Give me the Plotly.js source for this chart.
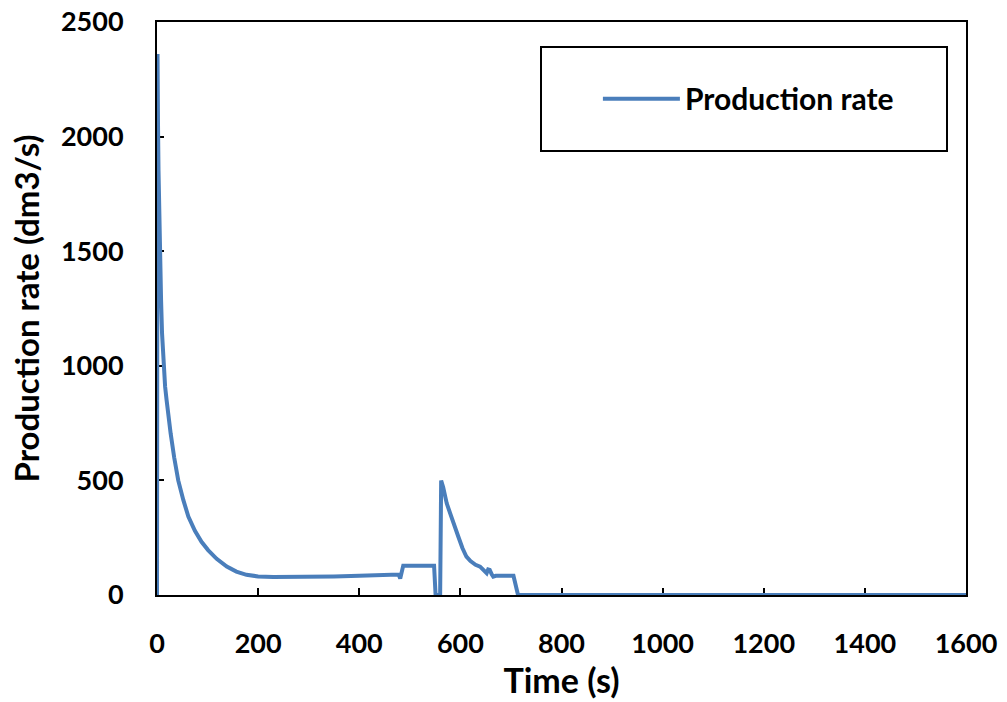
<!DOCTYPE html>
<html>
<head>
<meta charset="utf-8">
<script src="https://cdn.plot.ly/plotly-3.0.1.min.js"></script>
<style>html,body{margin:0;padding:0;background:#fff;}#chart{width:1007px;height:702px;}</style>
</head>
<body>
<div id="chart"></div>
<script>
var seriesName = "Production rate";
var timeS = [0, 1, 2, 3, 4, 6, 8, 10, 12.5, 16, 19, 23, 27, 34, 42, 52, 62, 75, 88, 101, 118, 138, 157, 177, 200, 230, 260, 300, 350, 400, 440, 478, 481, 484, 487, 548, 551, 560, 562, 566, 573, 580, 588, 596, 604, 612, 620, 630, 639, 646, 652, 655, 658, 662, 665, 670, 705, 714, 1600];
var rate  = [0, 2360, 2050, 1850, 1700, 1480, 1290, 1140, 1000, 910, 850, 770, 705, 600, 500, 415, 342, 280, 232, 196, 158, 124, 102, 88, 81, 78, 78, 79, 81, 84, 87, 89, 72, 95, 128, 128, 0, 0, 499, 470, 400, 355, 300, 254, 205, 167, 148, 132, 124, 105, 95, 112, 110, 90, 80, 84, 84, 0, 0];
var xTicks = [0, 200, 400, 600, 800, 1000, 1200, 1400, 1600];
var yTicks = [0, 500, 1000, 1500, 2000, 2500];

var FONT = "Lato, 'Open Sans', sans-serif";
var trace = {
  x: timeS, y: rate, type: 'scatter', mode: 'lines', name: seriesName,
  line: {color: '#4a7ebb', width: 4}, cliponaxis: false
};
var axisCommon = {
  showgrid: false, zeroline: false, showline: true, linecolor: '#000', linewidth: 2,
  mirror: true, ticks: 'inside', ticklen: 7, tickwidth: 2, tickcolor: '#000',
  layer: 'below traces',
  tickfont: {family: FONT, size: 27, color: '#000', weight: 'bold'}
};
var layout = {
  width: 1007, height: 702,
  margin: {l: 157, r: 41, t: 22, b: 107},
  paper_bgcolor: '#fff', plot_bgcolor: '#fff',
  showlegend: true,
  xaxis: Object.assign({}, axisCommon, {
    range: [0, 1600], tickvals: xTicks, ticktext: xTicks.map(String), ticklabelstandoff: 24,
    title: {text: 'Time (s)', font: {family: FONT, size: 34, color: '#000', weight: 'bold'}, standoff: 9}
  }),
  yaxis: Object.assign({}, axisCommon, {
    range: [0, 2500], tickvals: yTicks, ticktext: yTicks.map(String), ticklabelstandoff: 26,
    title: {text: 'Production rate (dm3/s)', font: {family: FONT, size: 33, color: '#000', weight: 'bold'}, standoff: 11}
  }),
  legend: {
    x: 0.545, y: 0.866, xanchor: 'left', yanchor: 'middle',
    bgcolor: 'rgba(0,0,0,0)', borderwidth: 0, itemwidth: 77,
    font: {family: FONT, size: 30, color: '#000', weight: 'bold'}
  },
  shapes: [{
    type: 'rect', xref: 'paper', yref: 'paper',
    x0: (541 - 157) / 809, x1: (947 - 157) / 809,
    y0: (595 - 151) / 573, y1: (595 - 47) / 573,
    line: {color: '#000', width: 2}, fillcolor: 'rgba(0,0,0,0)'
  }]
};
Plotly.newPlot('chart', [trace], layout, {displayModeBar: false, staticPlot: true});
</script>
</body>
</html>
